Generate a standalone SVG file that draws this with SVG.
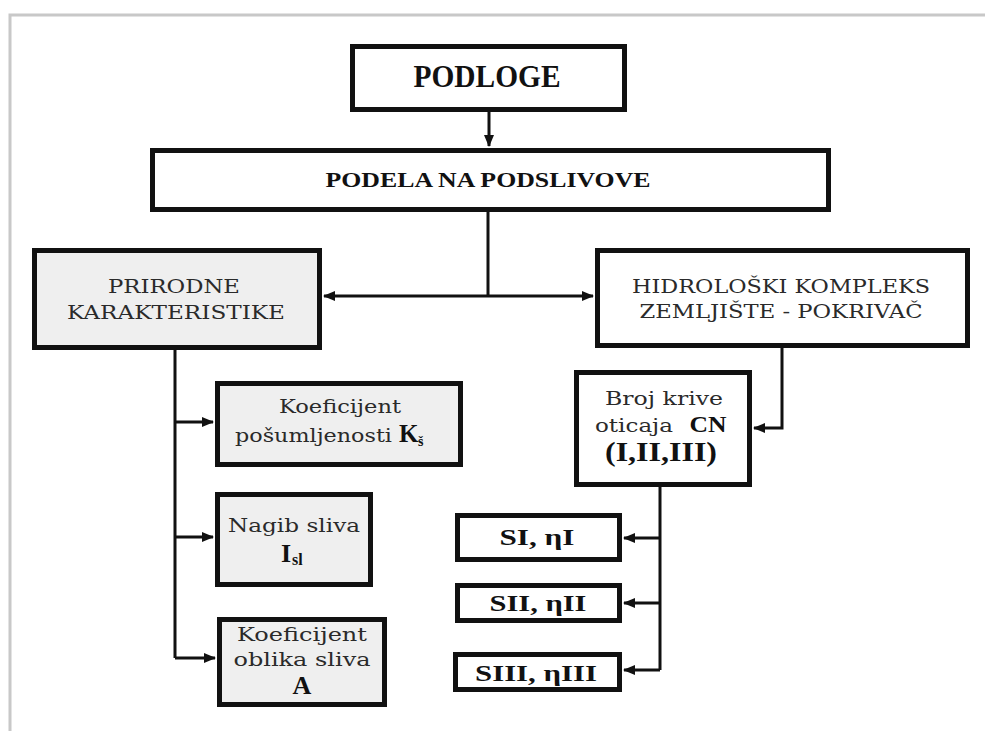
<svg xmlns="http://www.w3.org/2000/svg" width="985" height="731" viewBox="0 0 985 731">
<defs>
<marker id="ah" markerUnits="userSpaceOnUse" markerWidth="12" markerHeight="10" refX="11" refY="5" orient="auto">
<path d="M0,0 L12,5 L0,10 Z" fill="#111"/>
</marker>
<style>
.box{stroke:#111;stroke-width:5;fill:#fff}
.gray{fill:#efefef}
.c{fill:none;stroke:#111;stroke-width:3}
.b{font-family:"Liberation Serif",serif;font-weight:bold;fill:#111;text-anchor:middle}
.r{font-family:"DejaVu Serif",serif;fill:#2a2a2a;text-anchor:middle}
.s{font-family:"DejaVu Serif",serif;fill:#2a2a2a}
</style>
</defs>
<rect x="0" y="0" width="985" height="731" fill="#fff"/>
<path d="M10,731 V15 H985" fill="none" stroke="#c8c8c8" stroke-width="3"/>

<g id="connectors">
<path class="c" d="M489,112 V146" marker-end="url(#ah)"/>
<path class="c" d="M488,212 V296"/>
<path class="c" d="M488,296 H324" marker-end="url(#ah)"/>
<path class="c" d="M488,296 H593" marker-end="url(#ah)"/>
<path class="c" d="M782,348 V428 H754" marker-end="url(#ah)"/>
<path class="c" d="M175,350 V658"/>
<path class="c" d="M175,422 H213" marker-end="url(#ah)"/>
<path class="c" d="M175,537 H213" marker-end="url(#ah)"/>
<path class="c" d="M175,658 H215" marker-end="url(#ah)"/>
<path class="c" d="M660,487 V670"/>
<path class="c" d="M660,538 H624" marker-end="url(#ah)"/>
<path class="c" d="M660,603 H624" marker-end="url(#ah)"/>
<path class="c" d="M660,670 H624" marker-end="url(#ah)"/>
</g>

<g id="podloge">
<rect class="box" x="352.5" y="46.5" width="272" height="63"/>
<text class="b" x="487" y="87" font-size="32" textLength="147" lengthAdjust="spacingAndGlyphs">PODLOGE</text>
</g>

<g id="podela">
<rect class="box" x="152.5" y="150.5" width="676" height="59"/>
<text class="b" x="488" y="187" font-size="22" textLength="325" lengthAdjust="spacingAndGlyphs">PODELA NA PODSLIVOVE</text>
</g>

<g id="prirodne">
<rect class="box gray" x="34.5" y="250.5" width="285" height="97"/>
<text class="r" x="174" y="293" font-size="19" textLength="132" lengthAdjust="spacingAndGlyphs">PRIRODNE</text>
<text class="r" x="176" y="319" font-size="19" textLength="218" lengthAdjust="spacingAndGlyphs">KARAKTERISTIKE</text>
</g>

<g id="hidroloski">
<rect class="box" x="597.5" y="250.5" width="370" height="95"/>
<text class="r" x="781" y="293" font-size="19" textLength="298" lengthAdjust="spacingAndGlyphs">HIDROLOŠKI KOMPLEKS</text>
<text class="r" x="781" y="318" font-size="19" textLength="283" lengthAdjust="spacingAndGlyphs">ZEMLJIŠTE - POKRIVAČ</text>
</g>

<g id="cn">
<rect class="box" x="576.5" y="372.5" width="173" height="112"/>
<text class="r" x="664" y="405" font-size="19" textLength="118" lengthAdjust="spacingAndGlyphs">Broj krive</text>
<text class="s" x="595" y="432" font-size="19" textLength="78" lengthAdjust="spacingAndGlyphs">oticaja</text>
<text class="b" x="708" y="432" font-size="23" textLength="37" lengthAdjust="spacingAndGlyphs">CN</text>
<text class="b" x="661" y="461" font-size="27" textLength="112" lengthAdjust="spacingAndGlyphs">(I,II,III)</text>
</g>

<g id="kos">
<rect class="box gray" x="217.5" y="383.5" width="243" height="81"/>
<text class="r" x="340" y="413" font-size="19" textLength="122" lengthAdjust="spacingAndGlyphs">Koeficijent</text>
<text class="s" x="235" y="442" font-size="19" textLength="157" lengthAdjust="spacingAndGlyphs">pošumljenosti</text>
<text x="399" y="442" font-family="Liberation Serif, serif" font-weight="bold" font-size="25" fill="#111">K</text>
<text x="418" y="446" font-family="Liberation Serif, serif" font-weight="bold" font-size="14" fill="#111">š</text>
</g>

<g id="nagib">
<rect class="box gray" x="217.5" y="494.5" width="153" height="90"/>
<text class="r" x="294" y="532" font-size="19" textLength="132" lengthAdjust="spacingAndGlyphs">Nagib sliva</text>
<text x="281" y="562" font-family="Liberation Serif, serif" font-weight="bold" font-size="26" fill="#111">I</text>
<text x="292" y="565" font-family="Liberation Serif, serif" font-weight="bold" font-size="16" fill="#111">sl</text>
</g>

<g id="oblik">
<rect class="box gray" x="219.5" y="619.5" width="165" height="85"/>
<text class="r" x="302" y="641" font-size="19" textLength="130" lengthAdjust="spacingAndGlyphs">Koeficijent</text>
<text class="r" x="302" y="666" font-size="19" textLength="137" lengthAdjust="spacingAndGlyphs">oblika sliva</text>
<text class="b" x="302" y="694" font-size="26">A</text>
</g>

<g id="si">
<rect class="box" x="457.5" y="515.5" width="162" height="44"/>
<text class="b" x="537" y="545" font-size="24" textLength="75" lengthAdjust="spacingAndGlyphs">SI, ηI</text>
</g>

<g id="sii">
<rect class="box" x="457.5" y="585.5" width="162" height="35"/>
<text class="b" x="538" y="611" font-size="24" textLength="97" lengthAdjust="spacingAndGlyphs">SII, ηII</text>
</g>

<g id="siii">
<rect class="box" x="455.5" y="654.5" width="164" height="35"/>
<text class="b" x="536" y="681" font-size="24" textLength="122" lengthAdjust="spacingAndGlyphs">SIII, ηIII</text>
</g>
</svg>
